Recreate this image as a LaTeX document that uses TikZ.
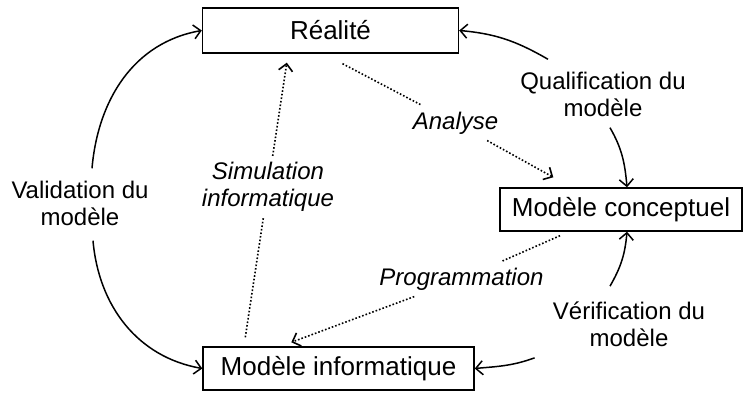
\documentclass[tikz,border=0pt]{standalone}
\usepackage{fontspec}
\setmainfont{Liberation Sans}
\usetikzlibrary{arrows.meta}

\begin{document}
\begin{tikzpicture}[x=0.5pt,y=0.5pt,>={Straight Barb[length=3.5pt,width=7pt]},
    box/.style={draw,line width=0.7pt,inner sep=0pt,font=\fontsize{13}{15}\selectfont},
    lab/.style={align=center,inner sep=1pt,font=\fontsize{12}{13.5}\selectfont},
    act/.style={align=center,inner sep=3pt,font=\fontsize{12}{13.5}\selectfont\itshape},
    arr/.style={->,line width=0.75pt},
    dots/.style={densely dotted,line width=0.8pt}]
  \useasboundingbox (0,0) rectangle (744,-394);

  % les trois modeles
  \node[box,minimum width=128pt,minimum height=22.5pt] (real) at (330.5,-30.5) {Réalité};
  \node[box,minimum width=121pt,minimum height=21.5pt] (concept) at (621,-209.5) {Modèle conceptuel};
  \node[box,minimum width=135.5pt,minimum height=21.5pt] (info) at (338.5,-368.5) {Modèle informatique};

  % etiquettes
  \node[lab] (valid) at (80,-203) {Validation du\\modèle};
  \node[lab] (qual) at (603,-94) {Qualification du\\modèle};
  \node[lab] (verif) at (629,-324) {Vérification du\\modèle};
  \node[act] (ana) at (455.5,-123) {Analyse};
  \node[act] (prog) at (461.5,-279) {Programmation};
  \node[act] (sim) at (268,-187) {Simulation\\informatique};

  % fleches pleines
  \draw[arr] ([xshift=6pt,yshift=5pt]valid.north) to[out=85,in=190] (real.west);
  \draw[arr] ([xshift=6.5pt,yshift=-6.5pt]valid.south) to[out=-85,in=170] (info.west);
  \draw[arr] ([xshift=-27.5pt,yshift=5pt]qual.north) to[out=150,in=-5] (real.east);
  \draw[arr] ([xshift=3.5pt,yshift=-4.5pt]qual.south) to[out=-60,in=95] ([xshift=3pt]concept.north);
  \draw[arr] ([xshift=-9.5pt,yshift=6.5pt]verif.north) to[out=60,in=-95] ([xshift=3pt]concept.south);
  \draw[arr] ([xshift=-8pt,yshift=-4.5pt]verif.south west) to[out=-160,in=5] (info.east);

  % fleches pointillees
  \draw[dots] ([xshift=6pt,yshift=-5pt]real.south) -- (ana);
  \draw[dots,->] (ana) -- ([xshift=27pt,yshift=5pt]concept.north west);
  \draw[dots] ([xshift=-30.5pt,yshift=-2pt]concept.south) -- (prog);
  \draw[dots,->] (prog) -- ([xshift=44.5pt,yshift=2pt]info.north west);
  \draw[dots] ([xshift=21.5pt,yshift=4.5pt]info.north west) -- (sim);
  \draw[dots,->] (sim) -- ([xshift=42.5pt,yshift=-4.5pt]real.south west);
\end{tikzpicture}
\end{document}
